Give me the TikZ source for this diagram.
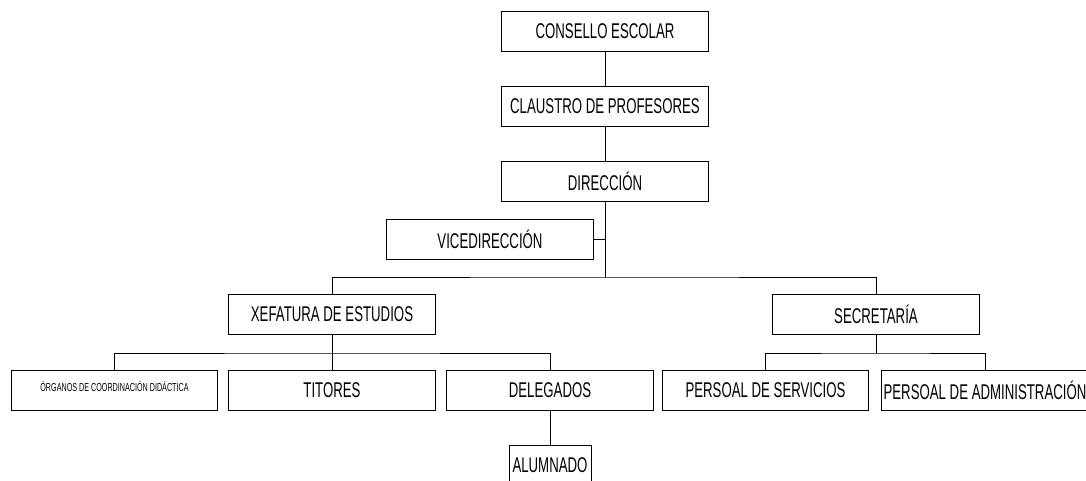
\documentclass[tikz,border=0pt]{standalone}
\usepackage{fontspec}
\setmainfont[FakeStretch=0.62]{Liberation Sans}
\usetikzlibrary{calc,positioning}
\tikzset{box/.style={draw,line width=0.6pt,minimum width=155pt,minimum height=30pt,inner sep=0pt,align=center,font=\fontsize{16}{18}\selectfont},
  smallbox/.style={box,minimum width=61.5pt},
  link/.style={line width=0.6pt}}

\begin{document}
\begin{tikzpicture}[x=0.75pt,y=-0.75pt]
\useasboundingbox (0,0) rectangle (1086,480);
% top of the chart
\node[box] (consello) at (605,31.5) {CONSELLO ESCOLAR};
\node[box] (claustro) at (605,106) {CLAUSTRO DE PROFESORES};
\node[box] (direccion) at (605,181.5) {DIRECCIÓN};
\node[box] (vice) at (490,239.5) {VICEDIRECCIÓN};
\node[box] (xefatura) at (332,314) {XEFATURA DE ESTUDIOS};
\node[box] (secretaria) at (876,314) {SECRETARÍA};
% bottom row
\node[box] (organos) at (114.5,390) {\raisebox{5pt}{\fontsize{8.7}{10}\selectfont ÓRGANOS DE COORDINACIÓN DIDÁCTICA}};
\node[box] (titores) at (332,390) {TITORES};
\node[box] (delegados) at (550,390) {DELEGADOS};
\node[box] (servicios) at (765.5,390) {PERSOAL DE SERVICIOS};
\node[box] (administracion) at (985,390) {PERSOAL DE ADMINISTRACIÓN};
\node[smallbox] (alumnado) at (550,465) {ALUMNADO};
\coordinate (busA) at (605,277);
\coordinate (busX) at (332,353);
\coordinate (busS) at (876,353);
\draw[link] (consello) -- (claustro);
\draw[link] (claustro) -- (direccion);
\draw[link] (direccion) -- (busA);
\draw[link] (vice.east) -- (vice.east -| direccion.south);
\draw[link] (xefatura.north) |- (busA) -| (secretaria.north);
\draw[link] (xefatura) -- (titores);
\draw[link] (organos.north) |- (busX) -| (delegados.north);
\draw[link] (secretaria) -- (busS);
\draw[link] (servicios.north) |- (busS) -| (administracion.north);
\draw[link] (delegados) -- (alumnado);
\end{tikzpicture}
\end{document}
